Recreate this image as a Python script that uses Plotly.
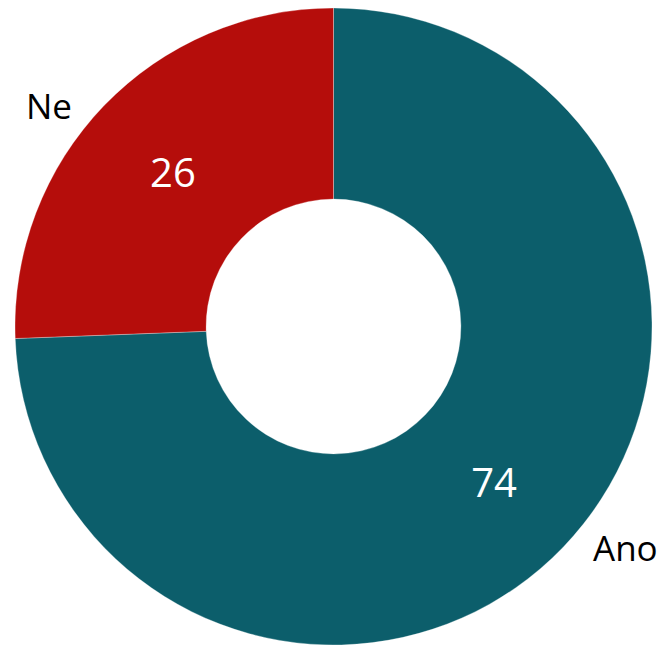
import math
import plotly.graph_objects as go

labels = ["Ano", "Ne"]
values = [74.4, 25.6]
colors = ["#0C5E6B", "#B50D0B"]

W, H = 662, 645
margin = dict(l=14, r=9, t=8, b=0)
HOLE = 0.4

fig = go.Figure()
fig.add_trace(go.Pie(
    labels=labels, values=values, hole=HOLE, sort=False, direction="clockwise", rotation=0,
    marker=dict(colors=colors, line=dict(color="rgba(255,255,255,0.6)", width=0.5)),
    texttemplate="%{value:.0f}", textposition="inside", insidetextorientation="horizontal",
    textfont=dict(family="Open Sans", size=40, color="white"),
    hoverinfo="skip", showlegend=False, automargin=False,
))

# category labels outside the ring, placed from the slice mid-angles
pw = W - margin["l"] - margin["r"]
ph = H - margin["t"] - margin["b"]
R = min(pw, ph) / 2
total = sum(values)
start = 0.0
for lab, v in zip(labels, values):
    mid = math.radians((start + v / 2) / total * 360)
    start += v
    dx = R * math.sin(mid)
    dy = R * math.cos(mid)
    right = dx >= 0
    fig.add_annotation(
        x=0.5 + dx / pw, y=0.5 + dy / ph, xref="paper", yref="paper",
        text=lab, showarrow=False,
        xanchor="left" if right else "right", yanchor="middle",
        xshift=28 if right else -30,
        font=dict(family="Open Sans", size=35, color="black"),
    )

fig.update_layout(
    width=W, height=H, margin=margin,
    paper_bgcolor="white", plot_bgcolor="white",
)
fig.write_html(
    "out.html",
    config={"displayModeBar": False},
    post_script="document.body.style.margin='0';document.body.style.overflow='hidden';",
)
